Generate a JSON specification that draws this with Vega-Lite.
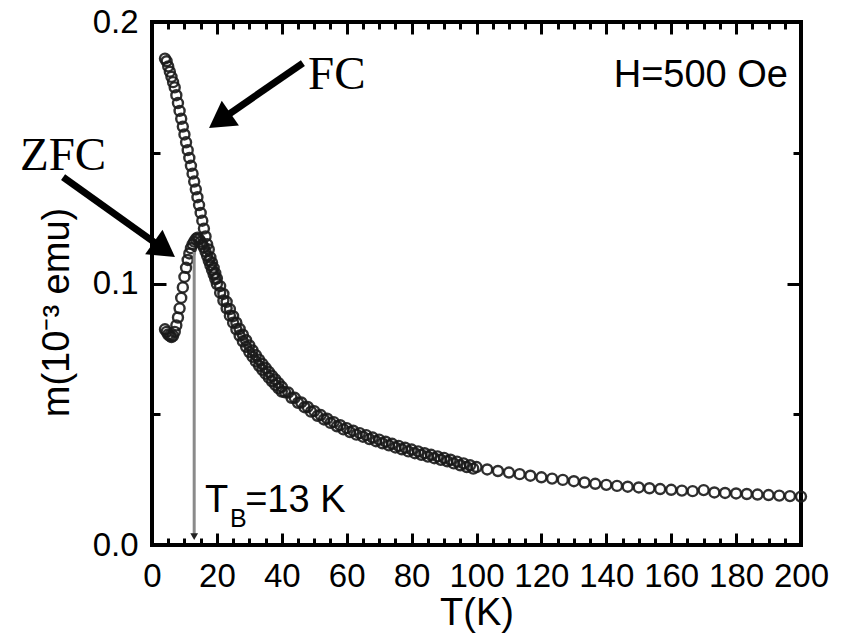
{
 "$schema": "https://vega.github.io/schema/vega-lite/v6.json",
 "width": 649,
 "height": 523,
 "autosize": {"type": "none"},
 "padding": {"left": 152, "top": 22, "right": 40, "bottom": 89},
 "background": "white",
 "config": {
  "view": {"stroke": "black", "strokeWidth": 4},
  "axis": {"domain": false, "grid": false, "tickColor": "black", "tickWidth": 3, "labelFont": "Liberation Sans", "labelFontSize": 33, "labelColor": "black", "titleFont": "Liberation Sans", "titleFontSize": 38, "titleColor": "black", "titleFontWeight": "normal", "labelFlush": false, "labelOverlap": false}
 },
 "datasets": {
  "fc": [
   {"T":4,"m":0.186},{"T":4.5,"m":0.185},{"T":5,"m":0.183},{"T":5.5,"m":0.181},{"T":6,"m":0.179},{"T":6.5,"m":0.177},{"T":7,"m":0.175},{"T":7.5,"m":0.172},{"T":8,"m":0.169},{"T":8.5,"m":0.166},{"T":9,"m":0.163},{"T":9.5,"m":0.160},{"T":10,"m":0.157},{"T":10.5,"m":0.154},{"T":11,"m":0.151},{"T":11.5,"m":0.148},{"T":12,"m":0.145},{"T":12.5,"m":0.142},{"T":13,"m":0.139},{"T":13.5,"m":0.136},{"T":14,"m":0.133},{"T":14.5,"m":0.130},{"T":15,"m":0.127},{"T":15.5,"m":0.124},{"T":16,"m":0.121},{"T":16.5,"m":0.118},{"T":17,"m":0.115},{"T":17.5,"m":0.113},{"T":18,"m":0.110},{"T":18.5,"m":0.108},{"T":19,"m":0.106},{"T":19.5,"m":0.104},{"T":20,"m":0.102},
   {"T":21,"m":0.099},{"T":22,"m":0.096},{"T":23,"m":0.093},{"T":24,"m":0.0902},{"T":25,"m":0.0875},{"T":26,"m":0.085},{"T":27,"m":0.0826},{"T":28,"m":0.0804},{"T":29,"m":0.0783},{"T":30,"m":0.0763},{"T":31,"m":0.0744},{"T":32,"m":0.0726},{"T":33,"m":0.0709},{"T":34,"m":0.0693},{"T":35,"m":0.0677},{"T":36,"m":0.0662},{"T":37,"m":0.0647},{"T":38,"m":0.0633},{"T":39,"m":0.0619},{"T":40,"m":0.0605},
   {"T":42,"m":0.0583},{"T":44,"m":0.0563},{"T":46,"m":0.0545},{"T":48,"m":0.0528},{"T":50,"m":0.0512},{"T":52,"m":0.0497},{"T":54,"m":0.0483},{"T":56,"m":0.047},{"T":58,"m":0.0458},{"T":60,"m":0.0447},{"T":62,"m":0.0437},{"T":64,"m":0.0428},{"T":66,"m":0.042},{"T":68,"m":0.0411},{"T":70,"m":0.0403},{"T":72,"m":0.0395},{"T":74,"m":0.0387},{"T":76,"m":0.0379},{"T":78,"m":0.0372},{"T":80,"m":0.0365},{"T":82,"m":0.0358},{"T":84,"m":0.0351},{"T":86,"m":0.0345},{"T":88,"m":0.0339},{"T":90,"m":0.0333},{"T":92,"m":0.0326},{"T":94,"m":0.0319},{"T":96,"m":0.0312},{"T":98,"m":0.0305},{"T":100,"m":0.0298},
   {"T":103.3,"m":0.0289},{"T":106.6,"m":0.0283},{"T":110,"m":0.0277},{"T":113.3,"m":0.0271},{"T":116.6,"m":0.0265},{"T":120,"m":0.0259},{"T":123.3,"m":0.0254},{"T":126.6,"m":0.0249},{"T":130,"m":0.0244},{"T":133.3,"m":0.0239},{"T":136.6,"m":0.0234},{"T":140,"m":0.023},{"T":143.3,"m":0.0226},{"T":146.6,"m":0.0223},{"T":150,"m":0.022},{"T":153.3,"m":0.0217},{"T":156.6,"m":0.0214},{"T":160,"m":0.0211},{"T":163.3,"m":0.0208},{"T":166.6,"m":0.0206},{"T":170,"m":0.021},{"T":173.3,"m":0.0201},{"T":176.6,"m":0.0199},{"T":180,"m":0.0197},{"T":183.3,"m":0.0195},{"T":186.6,"m":0.0193},{"T":190,"m":0.0191},{"T":193.3,"m":0.0189},{"T":196.6,"m":0.0187},{"T":200,"m":0.0185}
  ],
  "zfc": [
   {"T":4,"m":0.0825},{"T":4.5,"m":0.0815},{"T":5,"m":0.0805},{"T":5.5,"m":0.08},{"T":6,"m":0.0795},{"T":6.5,"m":0.08},{"T":7,"m":0.0815},{"T":7.5,"m":0.084},{"T":8,"m":0.087},{"T":8.5,"m":0.0905},{"T":9,"m":0.0945},{"T":9.5,"m":0.0985},{"T":10,"m":0.1025},{"T":10.5,"m":0.106},{"T":11,"m":0.109},{"T":11.5,"m":0.1115},{"T":12,"m":0.1135},{"T":12.5,"m":0.115},{"T":13,"m":0.116},{"T":13.5,"m":0.117},{"T":14,"m":0.1175},{"T":14.5,"m":0.117},{"T":15,"m":0.116},{"T":15.5,"m":0.115},{"T":16,"m":0.1138},{"T":16.5,"m":0.1122},{"T":17,"m":0.1105},{"T":17.5,"m":0.1087},{"T":18,"m":0.107},{"T":18.5,"m":0.1052},{"T":19,"m":0.1035},{"T":19.5,"m":0.1017},{"T":20,"m":0.0998},
   {"T":21,"m":0.0965},{"T":22,"m":0.0935},{"T":23,"m":0.0905},{"T":24,"m":0.0877},{"T":25,"m":0.085},{"T":26,"m":0.0825},{"T":27,"m":0.0801},{"T":28,"m":0.0779},{"T":29,"m":0.0758},{"T":30,"m":0.0738},{"T":31,"m":0.072},{"T":32,"m":0.0702},{"T":33,"m":0.0685},{"T":34,"m":0.067},{"T":35,"m":0.0655},{"T":36,"m":0.064},{"T":37,"m":0.0626},{"T":38,"m":0.0612},{"T":39,"m":0.0599},{"T":40,"m":0.0587},
   {"T":41,"m":0.0584},{"T":43,"m":0.0563},{"T":45,"m":0.0544},{"T":47,"m":0.0527},{"T":49,"m":0.051},{"T":51,"m":0.0494},{"T":53,"m":0.048},{"T":55,"m":0.0467},{"T":57,"m":0.0454},{"T":59,"m":0.0442},{"T":61,"m":0.0432},{"T":63,"m":0.0422},{"T":65,"m":0.0414},{"T":67,"m":0.0405},{"T":69,"m":0.0397},{"T":71,"m":0.0389},{"T":73,"m":0.0381},{"T":75,"m":0.0373},{"T":77,"m":0.0366},{"T":79,"m":0.0358},{"T":81,"m":0.0351},{"T":83,"m":0.0345},{"T":85,"m":0.0338},{"T":87,"m":0.0332},{"T":89,"m":0.0326},{"T":91,"m":0.032},{"T":93,"m":0.0312},{"T":95,"m":0.0305},{"T":97,"m":0.0298},{"T":99,"m":0.0292}
  ]
 },
 "resolve": {"axis": {"x": "independent", "y": "independent"}},
 "layer": [
  {
   "data": {"name": "fc"},
   "mark": {"type": "point", "filled": false, "size": 100, "stroke": "#1a1a1a", "strokeWidth": 2.4, "opacity": 0.9},
   "encoding": {
    "x": {"field": "T", "type": "quantitative", "scale": {"domain": [0, 200], "nice": false, "zero": false},
     "axis": {"orient": "bottom", "values": [0,20,40,60,80,100,120,140,160,180,200], "tickSize": -12, "labelPadding": 27, "title": "T(K)", "titlePadding": 1}},
    "y": {"field": "m", "type": "quantitative", "scale": {"domain": [0, 0.2], "nice": false},
     "axis": {"orient": "left", "values": [0, 0.1, 0.2], "format": ".1f", "tickSize": -14, "labelPadding": 28, "title": "m(10⁻³ emu)", "titlePadding": 16, "titleY": 290}}
   }
  },
  {
   "data": {"name": "zfc"},
   "mark": {"type": "point", "filled": false, "size": 100, "stroke": "#1a1a1a", "strokeWidth": 2.4, "opacity": 0.9},
   "encoding": {
    "x": {"field": "T", "type": "quantitative",
     "axis": {"orient": "bottom", "values": [5,10,15,25,30,35,45,50,55,65,70,75,85,90,95,105,110,115,125,130,135,145,150,155,165,170,175,185,190,195], "tickSize": -7, "labels": false, "title": null}},
    "y": {"field": "m", "type": "quantitative",
     "axis": {"orient": "left", "values": [0.05, 0.15], "tickSize": -8, "labels": false, "title": null}}
   }
  },
  {
   "data": {"name": "fc"},
   "mark": {"type": "point", "opacity": 0},
   "encoding": {
    "x": {"field": "T", "type": "quantitative",
     "axis": {"orient": "top", "values": [0,20,40,60,80,100,120,140,160,180,200], "tickSize": -12, "labels": false, "title": null}},
    "y": {"field": "m", "type": "quantitative",
     "axis": {"orient": "right", "values": [0, 0.1, 0.2], "tickSize": -14, "labels": false, "title": null}}
   }
  },
  {
   "data": {"name": "fc"},
   "mark": {"type": "point", "opacity": 0},
   "encoding": {
    "x": {"field": "T", "type": "quantitative",
     "axis": {"orient": "top", "values": [5,10,15,25,30,35,45,50,55,65,70,75,85,90,95,105,110,115,125,130,135,145,150,155,165,170,175,185,190,195], "tickSize": -7, "labels": false, "title": null}},
    "y": {"field": "m", "type": "quantitative",
     "axis": {"orient": "right", "values": [0.05, 0.15], "tickSize": -8, "labels": false, "title": null}}
   }
  },
  {
   "data": {"values": [{}]},
   "mark": {"type": "rule", "color": "#8a8a8a", "strokeWidth": 3},
   "encoding": {
    "x": {"datum": 13, "type": "quantitative", "axis": null},
    "y": {"datum": 0.112, "type": "quantitative", "axis": null},
    "y2": {"datum": 0.0032}
   }
  },
  {
   "data": {"values": [{}]},
   "mark": {"type": "point", "shape": "triangle-down", "filled": true, "color": "#222222", "size": 60, "opacity": 1},
   "encoding": {
    "x": {"datum": 13, "type": "quantitative", "axis": null},
    "y": {"datum": 0.0032, "type": "quantitative", "axis": null}
   }
  },
  {
   "data": {"values": [{}]},
   "mark": {"type": "rule", "color": "black", "strokeWidth": 7},
   "encoding": {
    "x": {"datum": 46.5, "type": "quantitative", "axis": null},
    "y": {"datum": 0.1843, "type": "quantitative", "axis": null},
    "x2": {"datum": 20.86},
    "y2": {"datum": 0.1623}
   }
  },
  {
   "data": {"values": [{}]},
   "mark": {"type": "point", "shape": "triangle-up", "filled": true, "color": "black", "size": 900, "angle": 235, "opacity": 1},
   "encoding": {
    "x": {"datum": 20.86, "type": "quantitative", "axis": null},
    "y": {"datum": 0.1623, "type": "quantitative", "axis": null}
   }
  },
  {
   "data": {"values": [{}]},
   "mark": {"type": "rule", "color": "black", "strokeWidth": 7},
   "encoding": {
    "x": {"datum": -27.4, "type": "quantitative", "axis": null},
    "y": {"datum": 0.1407, "type": "quantitative", "axis": null},
    "x2": {"datum": 3.82},
    "y2": {"datum": 0.113}
   }
  },
  {
   "data": {"values": [{}]},
   "mark": {"type": "point", "shape": "triangle-up", "filled": true, "color": "black", "size": 900, "angle": 125.5, "opacity": 1},
   "encoding": {
    "x": {"datum": 3.82, "type": "quantitative", "axis": null},
    "y": {"datum": 0.113, "type": "quantitative", "axis": null}
   }
  },
  {
   "data": {"values": [{}]},
   "mark": {"type": "text", "text": "FC", "font": "Liberation Serif", "fontSize": 47, "align": "left", "baseline": "alphabetic", "color": "black"},
   "encoding": {
    "x": {"datum": 48.1, "type": "quantitative", "axis": null},
    "y": {"datum": 0.1744, "type": "quantitative", "axis": null}
   }
  },
  {
   "data": {"values": [{}]},
   "mark": {"type": "text", "text": "ZFC", "font": "Liberation Serif", "fontSize": 47, "align": "left", "baseline": "alphabetic", "color": "black"},
   "encoding": {
    "x": {"datum": -40.7, "type": "quantitative", "axis": null},
    "y": {"datum": 0.1434, "type": "quantitative", "axis": null}
   }
  },
  {
   "data": {"values": [{}]},
   "mark": {"type": "text", "text": "H=500 Oe", "font": "Liberation Sans", "fontSize": 38, "align": "right", "baseline": "alphabetic", "color": "black"},
   "encoding": {
    "x": {"datum": 196, "type": "quantitative", "axis": null},
    "y": {"datum": 0.1751, "type": "quantitative", "axis": null}
   }
  },
  {
   "data": {"values": [{}]},
   "mark": {"type": "text", "text": "T", "font": "Liberation Sans", "fontSize": 38, "align": "left", "baseline": "alphabetic", "color": "black"},
   "encoding": {
    "x": {"datum": 16.3, "type": "quantitative", "axis": null},
    "y": {"datum": 0.0126, "type": "quantitative", "axis": null}
   }
  },
  {
   "data": {"values": [{}]},
   "mark": {"type": "text", "text": "B", "font": "Liberation Sans", "fontSize": 25, "align": "left", "baseline": "alphabetic", "color": "black"},
   "encoding": {
    "x": {"datum": 24.0, "type": "quantitative", "axis": null},
    "y": {"datum": 0.0069, "type": "quantitative", "axis": null}
   }
  },
  {
   "data": {"values": [{}]},
   "mark": {"type": "text", "text": "=13 K", "font": "Liberation Sans", "fontSize": 38, "align": "left", "baseline": "alphabetic", "color": "black"},
   "encoding": {
    "x": {"datum": 28.7, "type": "quantitative", "axis": null},
    "y": {"datum": 0.0126, "type": "quantitative", "axis": null}
   }
  }
 ]
}
